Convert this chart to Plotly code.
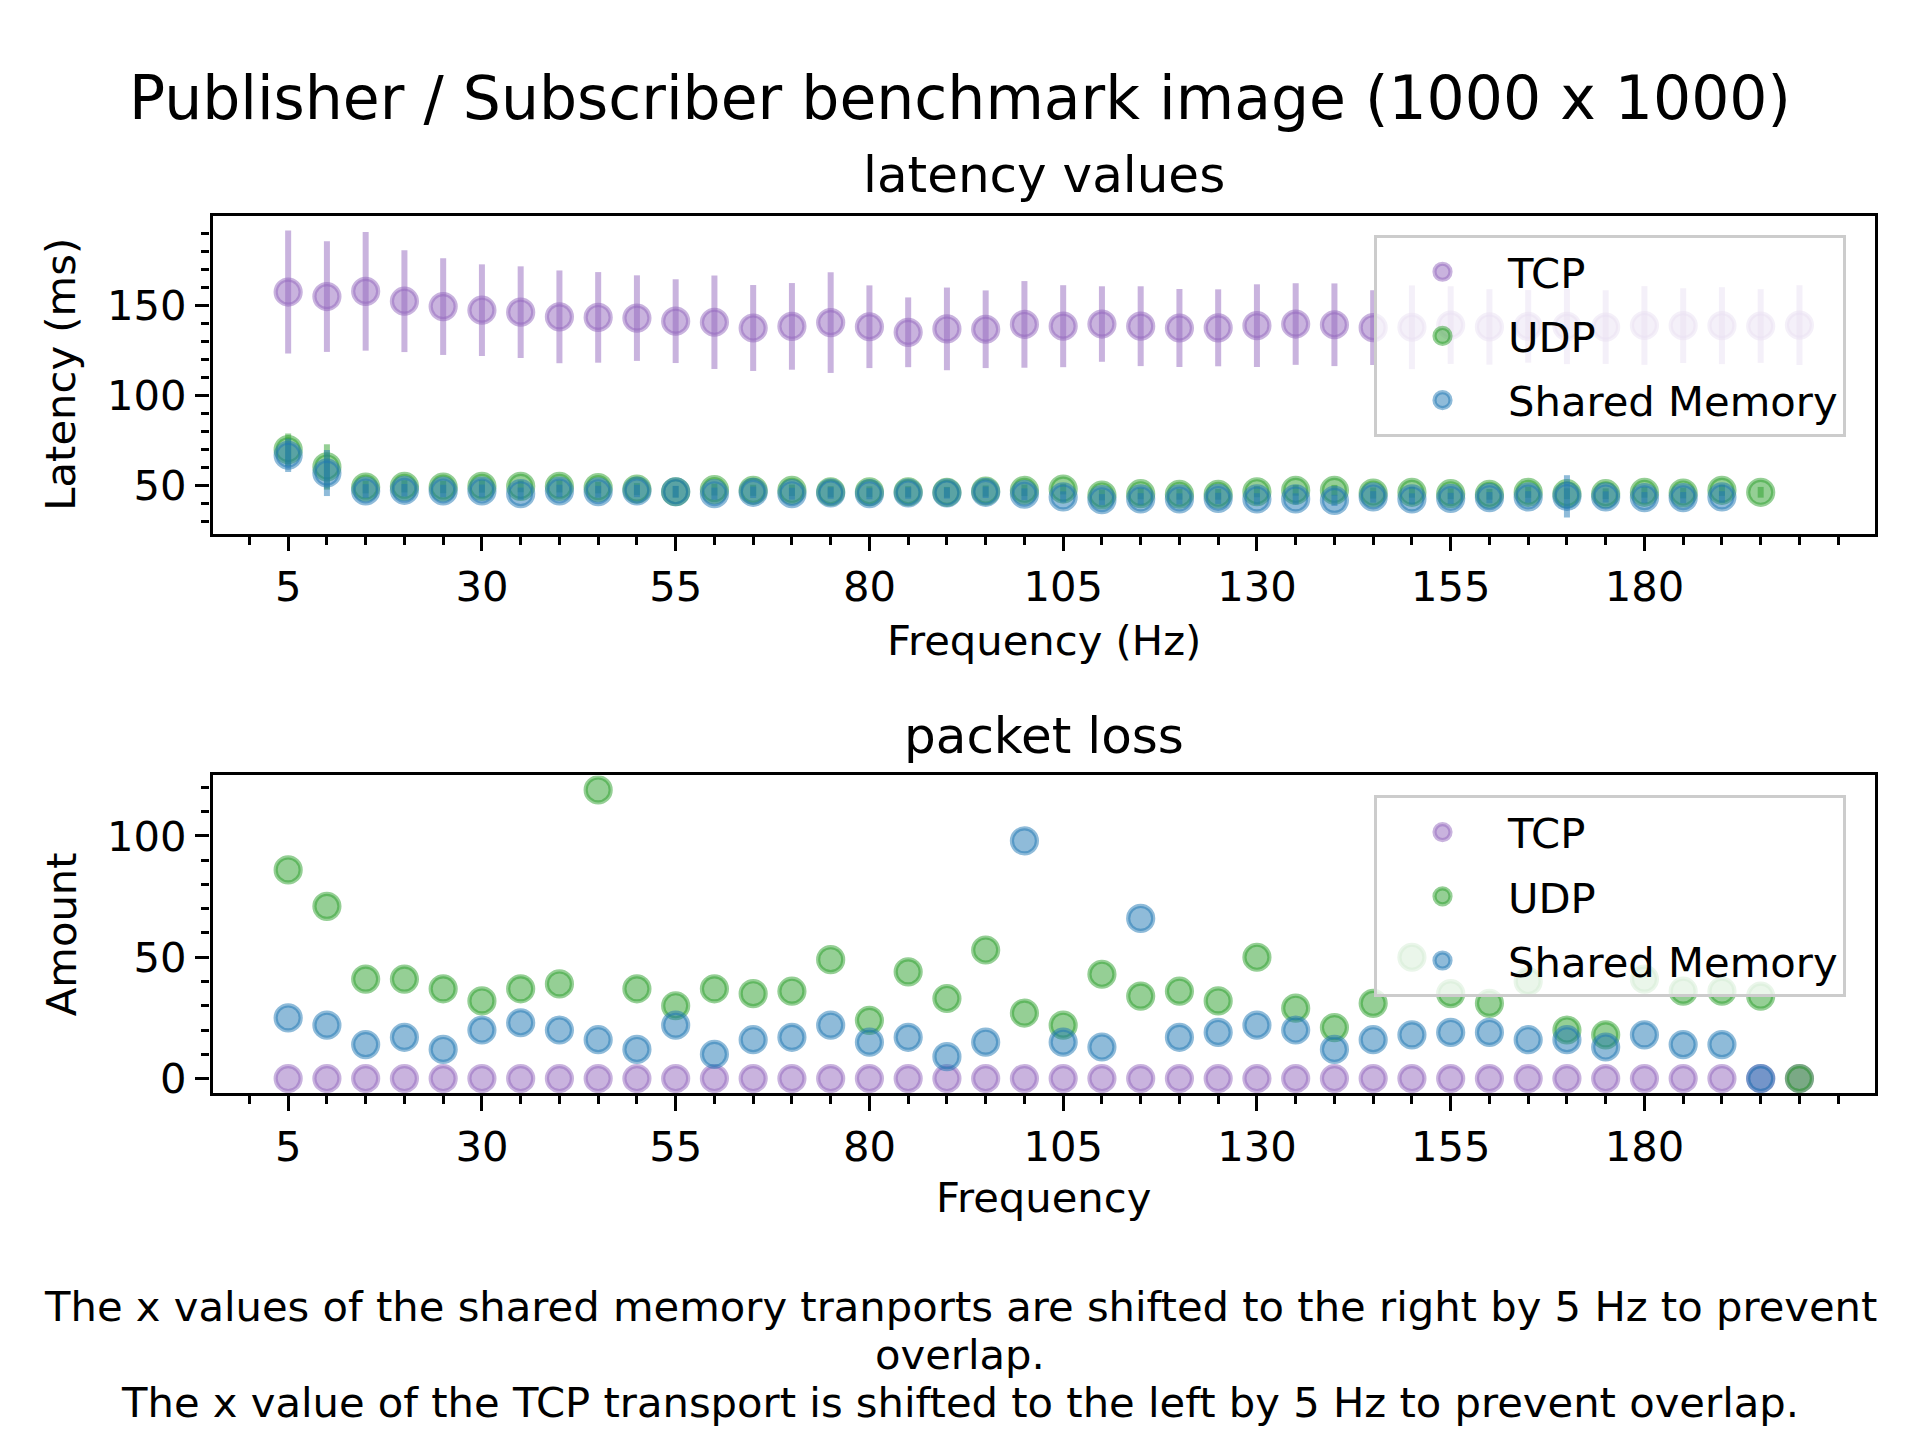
import plotly.graph_objects as go

# ---------------- data ----------------
freq = [5, 10, 15, 20, 25, 30, 35, 40, 45, 50, 55, 60, 65, 70, 75, 80, 85, 90, 95, 100,
        105, 110, 115, 120, 125, 130, 135, 140, 145, 150, 155, 160, 165, 170, 175, 180,
        185, 190, 195, 200]

tcp_latency = [157.7, 155.2, 158.1, 152.6, 149.6, 147.6, 146.5, 143.9, 143.6, 143.2,
               141.5, 140.9, 137.7, 138.6, 140.7, 138.4, 135.3, 137.2, 137.0, 139.7,
               138.7, 139.9, 138.7, 137.7, 137.8, 139.0, 139.9, 139.5, 137.9, 138.1,
               139.3, 138.3, 138.6, 138.6, 138.2, 139.1, 139.0, 139.0, 138.8, 139.3]
tcp_latency_err = [34.2, 30.8, 33.0, 28.3, 26.9, 25.5, 25.5, 25.8, 25.2, 23.8,
                   23.3, 26.0, 23.9, 24.1, 28.0, 23.0, 19.4, 23.0, 21.6, 24.1,
                   22.8, 21.0, 22.2, 21.7, 21.4, 23.0, 22.7, 23.0, 20.8, 23.3,
                   21.6, 21.0, 20.2, 21.0, 20.5, 21.9, 20.8, 21.4, 20.5, 22.2]

udp_latency = [70.0, 60.4, 49.2, 49.6, 49.2, 49.6, 49.6, 49.6, 48.9, 48.1,
               46.6, 47.8, 47.4, 47.4, 46.6, 46.6, 46.6, 46.3, 47.0, 47.4,
               48.1, 44.8, 45.5, 45.2, 45.2, 46.6, 47.4, 47.4, 45.9, 46.3,
               45.5, 45.2, 46.3, 45.5, 45.5, 46.3, 45.9, 47.4, 46.3]
udp_latency_err = [9.0, 12.6, 3.5, 3.4, 3.4, 3.5, 3.3, 3.4, 3.2, 3.3,
                   3.2, 3.3, 3.1, 3.2, 3.1, 3.0, 3.1, 3.0, 3.1, 3.2,
                   3.0, 3.0, 3.1, 3.0, 3.0, 3.1, 3.0, 3.0, 3.1, 3.0,
                   3.0, 3.0, 3.1, 3.0, 3.0, 3.0, 3.0, 3.1, 3.0]

shm_latency = [66.9, 57.0, 47.0, 47.4, 47.0, 47.0, 45.5, 47.0, 46.6, 47.0,
               46.6, 45.5, 46.3, 45.5, 45.9, 45.5, 45.9, 45.9, 46.3, 45.2,
               43.7, 42.2, 42.6, 42.6, 42.9, 42.6, 42.6, 41.8, 43.7, 42.6,
               42.9, 43.3, 43.7, 44.0, 43.7, 43.3, 43.3, 43.7]
shm_latency_err = [9.3, 12.8, 3.8, 3.5, 3.5, 3.6, 3.4, 3.5, 3.3, 3.4,
                   3.3, 3.4, 3.2, 3.3, 3.2, 3.1, 3.2, 3.1, 3.2, 3.3,
                   3.1, 3.1, 3.2, 3.1, 3.1, 3.2, 3.1, 3.1, 3.2, 3.1,
                   3.1, 3.1, 3.2, 11.8, 3.1, 3.1, 3.1, 3.2]

tcp_loss = [0] * 40
udp_loss = [86, 71, 41, 41, 37, 32, 37, 39, 119, 37, 30, 37, 35, 36, 49, 24, 44, 33, 53, 27,
            22, 43, 34, 36, 32, 50, 29, 21, 31, 50, 35, 31, 40, 20, 18, 41, 36, 36, 34, 0]
shm_loss = [25, 22, 14, 17, 12, 20, 23, 20, 16, 12, 22, 10, 16, 17, 22, 15, 17, 9, 15, 98,
            15, 13, 66, 17, 19, 22, 20, 12, 16, 18, 19, 19, 16, 16, 13, 18, 14, 14, 0]

x_tick_vals = [5, 30, 55, 80, 105, 130, 155, 180, 205]
x_tick_text = ["5", "30", "55", "80", "105", "130", "155", "180", ""]
x_minor_vals = list(range(0, 211, 5))
lat_tick_vals = [50, 100, 150]
lat_minor_vals = list(range(30, 200, 10))
loss_tick_vals = [0, 50, 100]
loss_minor_vals = list(range(0, 125, 10))

names = ["TCP", "UDP", "Shared Memory"]
colors = {"TCP": (148, 103, 189), "UDP": (44, 160, 44), "Shared Memory": (31, 119, 180)}

# ---------------- layout helpers ----------------
W, H = 1920, 1440
FONT = "DejaVu Sans"
YS = 1.0076  # vertical calibration of page pixels


def px_x(p):
    return p / W


def px_y(p):
    return 1 - (p * YS) / H


def rgba(name, a=0.5):
    r, g, b = colors[name]
    return f"rgba({r},{g},{b},{a})"


ax_left, ax_right = 212.6, 1875.0
top_t, top_b = 215.7, 533.3
bot_t, bot_b = 775.0, 1092.3

fig = go.Figure()

lat_series = [
    ("TCP", tcp_latency, tcp_latency_err),
    ("UDP", udp_latency, udp_latency_err),
    ("Shared Memory", shm_latency, shm_latency_err),
]
for name, vals, errs in lat_series:
    fig.add_trace(go.Scatter(
        x=freq[:len(vals)], y=vals, mode="markers", name=name,
        legend="legend", legendgroup="a" + name,
        marker=dict(size=25, color=rgba(name), line=dict(color=rgba(name), width=4.2)),
        error_y=dict(type="data", array=errs, symmetric=True, thickness=6, width=0,
                     color=rgba(name)),
        xaxis="x", yaxis="y", hoverinfo="x+y+name",
    ))

loss_series = [("TCP", tcp_loss), ("UDP", udp_loss), ("Shared Memory", shm_loss)]
for name, vals in loss_series:
    fig.add_trace(go.Scatter(
        x=freq[:len(vals)], y=vals, mode="markers", name=name,
        legend="legend2", legendgroup="b" + name,
        marker=dict(size=25, color=rgba(name), line=dict(color=rgba(name), width=4.2)),
        xaxis="x2", yaxis="y2", hoverinfo="x+y+name",
    ))

tick_font = dict(family=FONT, size=41.7, color="black")

common_x = dict(
    range=[-4.75, 209.75], tickmode="array", tickvals=x_tick_vals, ticktext=x_tick_text,
    ticks="outside", ticklen=14.6, tickwidth=3.3, tickcolor="black",
    showline=True, linewidth=3.3, linecolor="black", mirror=True,
    showgrid=False, zeroline=False, tickfont=tick_font,
    minor=dict(tickmode="array", tickvals=x_minor_vals, ticks="outside", ticklen=8.3,
               tickwidth=2.5, tickcolor="black", showgrid=False),
    domain=[px_x(ax_left), px_x(ax_right)],
)

legend_common = dict(
    xanchor="left", yanchor="top",
    bgcolor="rgba(255,255,255,0.8)", bordercolor="#cccccc", borderwidth=3,
    font=dict(family=FONT, size=41.7, color="black"),
    itemwidth=121, tracegroupgap=7, traceorder="grouped",
)

fig.update_layout(
    width=W, height=H, autosize=False,
    margin=dict(l=0, r=0, t=0, b=0),
    paper_bgcolor="white", plot_bgcolor="white",
    font=dict(family=FONT, color="black"),
    xaxis=dict(common_x, anchor="y"),
    xaxis2=dict(common_x, anchor="y2"),
    yaxis=dict(
        range=[23.3, 200.1], domain=[px_y(top_b), px_y(top_t)], anchor="x",
        tickmode="array", tickvals=lat_tick_vals,
        ticks="outside", ticklen=14.6, tickwidth=3.3, tickcolor="black",
        showline=True, linewidth=3.3, linecolor="black", mirror=True,
        showgrid=False, zeroline=False, tickfont=tick_font,
        minor=dict(tickmode="array", tickvals=lat_minor_vals, ticks="outside", ticklen=8.3,
                   tickwidth=2.5, tickcolor="black", showgrid=False),
    ),
    yaxis2=dict(
        range=[-5.95, 124.95], domain=[px_y(bot_b), px_y(bot_t)], anchor="x2",
        tickmode="array", tickvals=loss_tick_vals,
        ticks="outside", ticklen=14.6, tickwidth=3.3, tickcolor="black",
        showline=True, linewidth=3.3, linecolor="black", mirror=True,
        showgrid=False, zeroline=False, tickfont=tick_font,
        minor=dict(tickmode="array", tickvals=loss_minor_vals, ticks="outside", ticklen=8.3,
                   tickwidth=2.5, tickcolor="black", showgrid=False),
    ),
    legend=dict(legend_common, x=px_x(1374), y=px_y(235)),
    legend2=dict(legend_common, x=px_x(1374), y=px_y(795)),
    showlegend=True,
)


def label(text, xp, yp, size, angle=0):
    fig.add_annotation(
        text=text, x=px_x(xp), y=px_y(yp), xref="paper", yref="paper",
        xanchor="center", yanchor="middle", showarrow=False, textangle=angle,
        font=dict(family=FONT, size=size, color="black"),
    )


center_x = (ax_left + ax_right) / 2
label("Publisher / Subscriber benchmark image (1000 x 1000)", 960, 98, 60)
label("latency values", center_x, 175, 50)
label("Latency (ms)", 61, (top_t + top_b) / 2, 41.7, angle=-90)
label("Frequency (Hz)", center_x, 640, 41.7)
label("packet loss", center_x, 736, 50)
label("Amount", 61, (bot_t + bot_b) / 2, 41.7, angle=-90)
label("Frequency", center_x, 1197, 41.7)
label("The x values of the shared memory tranports are shifted to the right by 5 Hz to prevent",
      960, 1306, 41.7)
label("overlap.", 960, 1354, 41.7)
label("The x value of the TCP transport is shifted to the left by 5 Hz to prevent overlap.",
      960, 1402, 41.7)

fig.write_html("out.html")
